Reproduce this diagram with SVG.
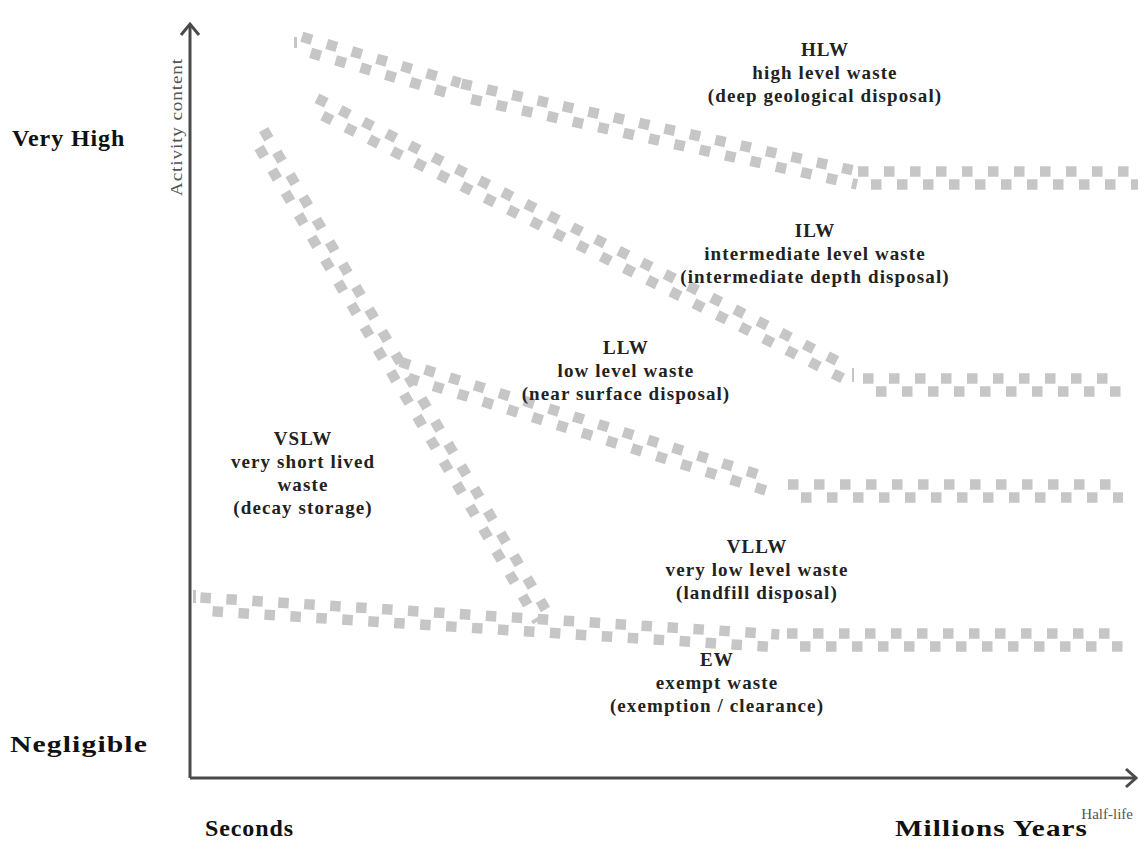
<svg xmlns="http://www.w3.org/2000/svg" width="1138" height="860" viewBox="0 0 1138 860">
<style>
.bg{fill:#ffffff}
.band line{stroke:#c6c6c6;stroke-width:10.5;stroke-dasharray:10.5 15.5;fill:none}
.tick{fill:#c6c6c6}
.axis{stroke:#4a4a4a;stroke-width:3;fill:none}
.lbl{font-family:"Liberation Serif","Times New Roman",serif;font-weight:bold;font-size:19px;letter-spacing:1.1px;fill:#222;text-anchor:middle}
.big{font-family:"Liberation Serif","Times New Roman",serif;font-weight:bold;font-size:24px;letter-spacing:0.9px;fill:#111}
.ax{font-family:"Liberation Serif","Times New Roman",serif;font-size:17px;letter-spacing:0.8px;fill:#555}
</style>
<rect class="bg" x="0" y="0" width="1138" height="860"/>

<g id="boundaries">
  <g id="band-hlw" class="band">
    <rect class="tick" x="294" y="37" width="3" height="11"/>
    <g transform="translate(300,43) rotate(16.31)"><line x1="0" y1="-6.5" x2="165" y2="-6.5"/><line x1="13" y1="6.5" x2="165" y2="6.5"/></g>
    <g transform="translate(460,90) rotate(12.47)"><line x1="0" y1="-6.5" x2="408" y2="-6.5"/><line x1="13" y1="6.5" x2="408" y2="6.5"/></g>
    <g transform="translate(858,178)"><line x1="0" y1="-6.5" x2="280" y2="-6.5"/><line x1="13" y1="6.5" x2="280" y2="6.5"/></g>
  </g>
  <g id="band-ilw" class="band">
    <g transform="translate(314,104) rotate(26.8)"><line x1="0" y1="-6.5" x2="598" y2="-6.5"/><line x1="13" y1="6.5" x2="598" y2="6.5"/></g>
    <rect class="tick" x="852" y="368" width="2" height="14"/>
    <g transform="translate(863,385)"><line x1="0" y1="-6.5" x2="260" y2="-6.5"/><line x1="13" y1="6.5" x2="260" y2="6.5"/></g>
  </g>
  <g id="band-llw" class="band">
    <g transform="translate(398,368) rotate(17.46)"><line x1="0" y1="-6.5" x2="390" y2="-6.5"/><line x1="13" y1="6.5" x2="390" y2="6.5"/></g>
    <g transform="translate(788,491)"><line x1="0" y1="-6.5" x2="335" y2="-6.5"/><line x1="13" y1="6.5" x2="335" y2="6.5"/></g>
  </g>
  <g id="band-vslw" class="band">
    <g transform="translate(258,133) rotate(59.56)"><line x1="0" y1="-6.5" x2="563" y2="-6.5"/><line x1="13" y1="6.5" x2="563" y2="6.5"/></g>
  </g>
  <g id="band-vllw" class="band">
    <rect class="tick" x="193" y="590" width="3" height="13"/>
    <g transform="translate(200,604) rotate(3.65)"><line x1="0" y1="-6.5" x2="580" y2="-6.5"/><line x1="13" y1="6.5" x2="580" y2="6.5"/></g>
    <g transform="translate(787,640)"><line x1="0" y1="-6.5" x2="336" y2="-6.5"/><line x1="13" y1="6.5" x2="336" y2="6.5"/></g>
  </g>
</g>

<g id="axes">
  <path class="axis" d="M190,778 V24 M190,778 H1136"/>
  <polyline class="axis" points="181,35 190,24 199,35"/>
  <polyline class="axis" points="1126,769 1136,778 1126,787"/>
  <text class="ax" transform="translate(182,127) rotate(-90)" text-anchor="middle" textLength="138" lengthAdjust="spacingAndGlyphs">Activity content</text>
  <text class="ax" x="1133" y="819" text-anchor="end" style="font-size:15px;letter-spacing:0px">Half-life</text>
</g>

<g id="scale-labels">
  <text class="big" x="12" y="146">Very High</text>
  <text class="big" x="10" y="752" textLength="138" lengthAdjust="spacingAndGlyphs">Negligible</text>
  <text class="big" x="205" y="836">Seconds</text>
  <text class="big" x="895" y="836" textLength="193" lengthAdjust="spacingAndGlyphs">Millions Years</text>
</g>

<g id="node-hlw">
  <text class="lbl" x="825" y="56">HLW</text>
  <text class="lbl" x="825" y="79">high level waste</text>
  <text class="lbl" x="825" y="102">(deep geological disposal)</text>
</g>
<g id="node-ilw">
  <text class="lbl" x="815" y="237">ILW</text>
  <text class="lbl" x="815" y="260">intermediate level waste</text>
  <text class="lbl" x="815" y="283">(intermediate depth disposal)</text>
</g>
<g id="node-llw">
  <text class="lbl" x="626" y="354">LLW</text>
  <text class="lbl" x="626" y="377">low level waste</text>
  <text class="lbl" x="626" y="400">(near surface disposal)</text>
</g>
<g id="node-vslw">
  <text class="lbl" x="303" y="445">VSLW</text>
  <text class="lbl" x="303" y="468">very short lived</text>
  <text class="lbl" x="303" y="491">waste</text>
  <text class="lbl" x="303" y="514">(decay storage)</text>
</g>
<g id="node-vllw">
  <text class="lbl" x="757" y="553">VLLW</text>
  <text class="lbl" x="757" y="576">very low level waste</text>
  <text class="lbl" x="757" y="599">(landfill disposal)</text>
</g>
<g id="node-ew">
  <text class="lbl" x="717" y="666">EW</text>
  <text class="lbl" x="717" y="689">exempt waste</text>
  <text class="lbl" x="717" y="712">(exemption / clearance)</text>
</g>
</svg>
